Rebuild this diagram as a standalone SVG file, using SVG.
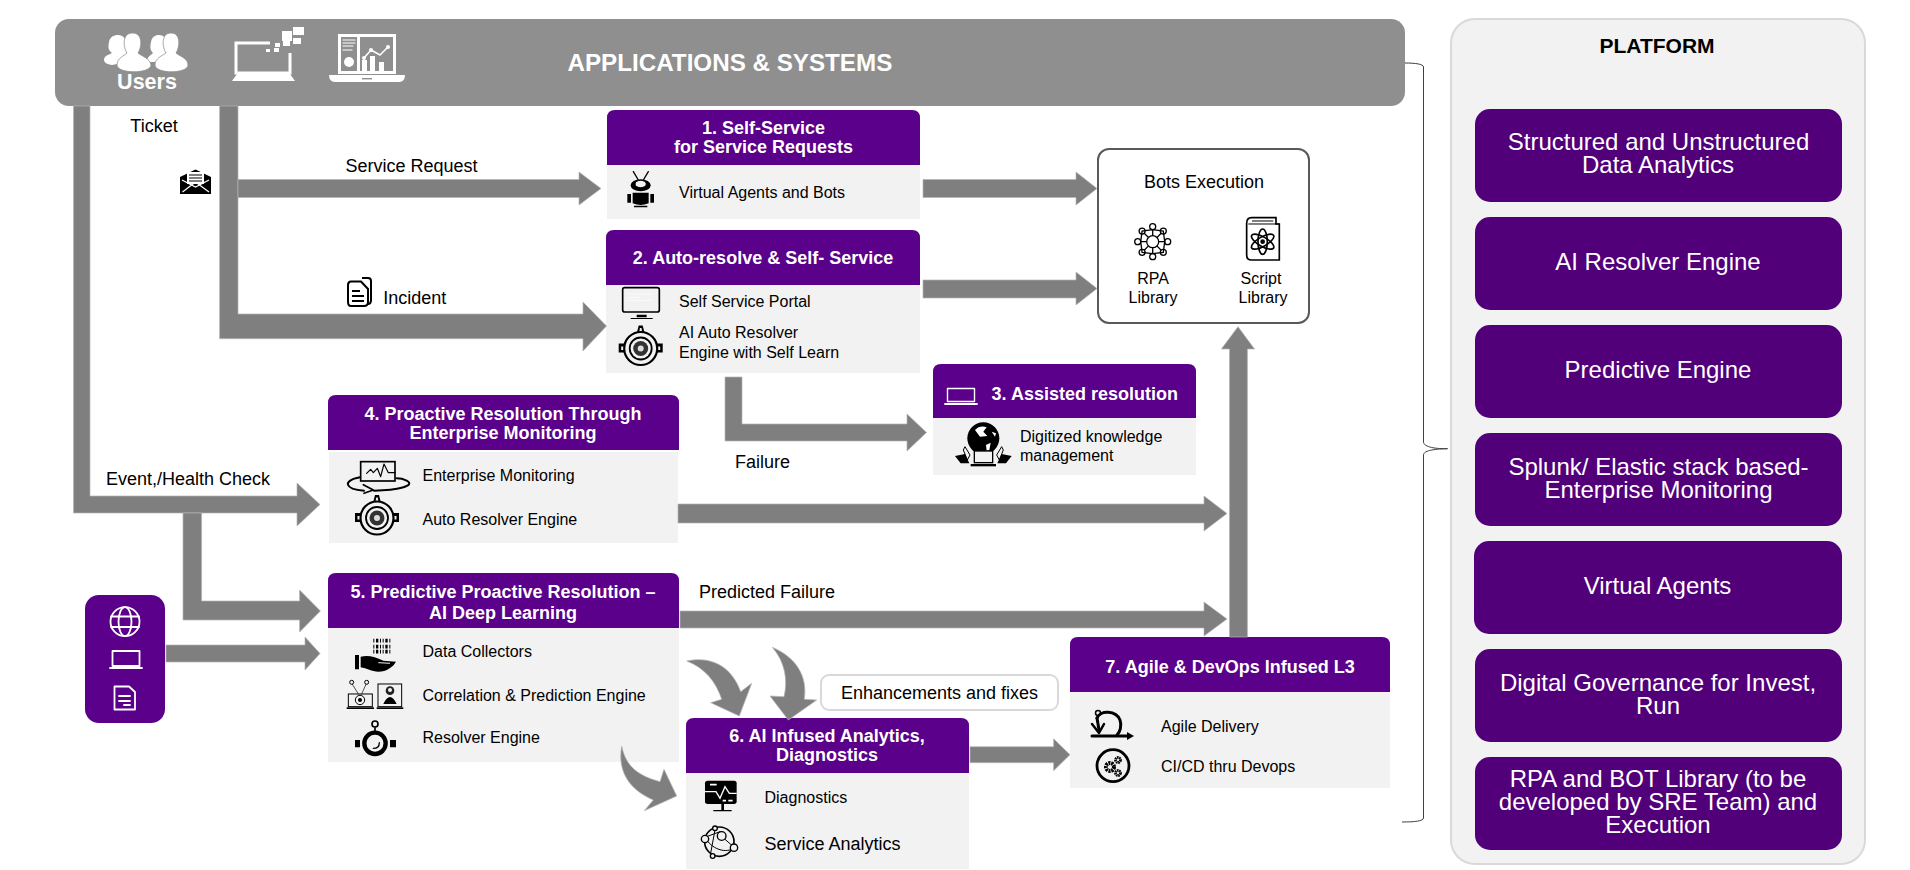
<svg xmlns="http://www.w3.org/2000/svg" width="1910" height="870" viewBox="0 0 1910 870">
<style>
text{font-family:"Liberation Sans",Arial,sans-serif;fill:#000}
.l{font-size:18px}
.b{font-size:16px}
.h{font-size:18px;font-weight:700;fill:#fff;text-anchor:middle}
.c{text-anchor:middle}
.p{font-size:24px;fill:#fff;text-anchor:middle}
.hd{fill:#5a008a}
.bd{fill:#f2f2f2}
.pb{fill:#51007a}
.ar{fill:#7f7f7f;stroke:#b5b5b5;stroke-width:.7}
.wl{fill:none;stroke:#fff;stroke-linecap:round;stroke-linejoin:round}
.kl{fill:none;stroke:#000;stroke-linecap:round;stroke-linejoin:round}
.k{fill:#000}
.w{fill:#fff}
.g{fill:#8f8f8f}
</style>
<defs>
<g id="engine">
<path d="M-2-23H2L4-15H-4Z" class="k"/><path d="M-.8-20.500H.8L1.500-16H-1.500Z" fill="#f2f2f2"/>
<path d="M-14-5H-22V4H-14ZM14-5H22V4H14Z" class="k"/><path d="M-19.500-2H-15V1.500H-19.500ZM15-2H19.500V1.500H15Z" fill="#f2f2f2"/>
<circle r="16.500" fill="#f2f2f2" stroke="#000" stroke-width="2.200"/>
<circle r="11" fill="#f2f2f2" stroke="#000" stroke-width="1.800"/>
<circle r="7.500" fill="#333"/><circle r="3" fill="#ddd"/>
</g>
</defs>

<g id="platform">
<rect x="1451" y="19" width="414" height="845" rx="24" fill="#f2f2f2" stroke="#d9d9d9" stroke-width="2"/>
<text x="1657" y="52.500" class="c" style="font-size:21px;font-weight:700">PLATFORM</text>
</g>
<g id="pf-1"><rect x="1475" y="109" width="367" height="93" rx="15" class="pb"/><text class="p" x="1658.500" y="150">Structured and Unstructured</text><text class="p" x="1658" y="173">Data Analytics</text></g>
<g id="pf-2"><rect x="1475" y="217" width="367" height="93" rx="15" class="pb"/><text class="p" x="1658" y="270">AI Resolver Engine</text></g>
<g id="pf-3"><rect x="1475" y="325" width="367" height="93" rx="15" class="pb"/><text class="p" x="1658" y="378">Predictive Engine</text></g>
<g id="pf-4"><rect x="1475" y="433" width="367" height="93" rx="15" class="pb"/><text class="p" x="1658.500" y="475">Splunk/ Elastic stack based-</text><text class="p" x="1658.500" y="498">Enterprise Monitoring</text></g>
<g id="pf-5"><rect x="1474" y="541" width="368" height="93" rx="15" class="pb"/><text class="p" x="1657.500" y="594">Virtual Agents</text></g>
<g id="pf-6"><rect x="1475" y="649" width="367" height="93" rx="15" class="pb"/><text class="p" x="1658" y="691">Digital Governance for Invest,</text><text class="p" x="1658" y="714">Run</text></g>
<g id="pf-7"><rect x="1475" y="757" width="367" height="93" rx="15" class="pb"/><text class="p" x="1658" y="787">RPA and BOT Library (to be</text><text class="p" x="1658" y="810">developed by SRE Team) and</text><text class="p" x="1658" y="833">Execution</text></g>

<g id="brace"><path d="M1405 63C1415 63 1423.500 64 1423.500 67V442C1423.500 446 1432 449 1447.600 448.700C1432 449 1423.500 451 1423.500 455V818C1423.500 821 1415 822 1402 822" fill="none" stroke="#404040" stroke-width="1"/></g>

<g id="apps">
<rect x="55" y="19" width="1350" height="87" rx="14" class="g"/>
<g class="w">
<path d="M104 60C104 56 108 55 112 53C108 50 108 47 109 42C110 36 115 35 118 35C124 35 127 40 127 48V62L112 65Q104 64 104 60Z"/>
<path d="M146 62C148 56 151 55 153 53C150 50 150 47 151 42C152 36 156 35 159 35C165 35 168 40 168 48V62Z"/>
</g>
<g class="w" stroke="#8f8f8f" stroke-width=".8">
<path d="M117 65C117 58 124 56 127 53C123 47 122 33 132.500 33C143 33 142 47 138 53C141 56 150 58 151 65C151 74 117 74 117 65Z"/>
<path d="M155 65C155 58 162 56 166 53C162 47 161 33 171 33C181 33 180 47 176 53C179 56 188 58 188 65C188 74 155 74 155 65Z"/>
</g>
<text x="147" y="88.500" class="c" style="font-size:21.500px;font-weight:700;fill:#fff">Users</text>
<path d="M270 43H236V73H290V53" fill="none" stroke="#fff" stroke-width="3"/>
<path d="M232 81L237 74H290L295 81Z" class="w"/>
<path d="M282 31h10v10h-10ZM293 27h11v8h-11ZM293 38h8v6h-8ZM283 41h7v5h-7ZM275 43h5v4h-5ZM266 49h4v3h-4ZM274 48h5v4h-5Z" class="w"/>
<rect x="338" y="34" width="58" height="40" class="w"/>
<path d="M329 75H405Q405 82 399 82H335Q329 82 329 75Z" class="w"/>
<rect x="362" y="78" width="10" height="1.400" fill="#8f8f8f"/>
<rect x="341" y="37" width="16" height="34" class="g"/><rect x="360" y="37" width="33" height="34" class="g"/>
<path d="M343 40h12M343 43h12M343 46h10M343 50h9" class="wl" stroke-width="1.200"/>
<circle cx="349" cy="62" r="5" class="w"/>
<path d="M362 71V60h5v11ZM370 71V56h5v15ZM379 71V62h5v9Z" class="w"/>
<path d="M364 58L371 50L380 55L388 47" class="wl" stroke-width="1.600"/>
<circle cx="371" cy="50" r="2" class="w"/><circle cx="388" cy="47" r="2" class="w"/><circle cx="364" cy="58" r="2" class="w"/>
<text x="567.500" y="71" style="font-size:24.200px;font-weight:700;fill:#fff">APPLICATIONS &amp; SYSTEMS</text>
</g>

<g id="box-1">
<path d="M607 165V118q0-8 8-8H912q8 0 8 8V165Z" class="hd"/><rect x="607" y="165" width="313" height="54" class="bd"/>
<text class="h" x="763.500" y="134">1. Self-Service</text><text class="h" x="763.500" y="153">for Service Requests</text>
<text class="b" x="679" y="197.700">Virtual Agents and Bots</text>
<g transform="translate(610,160) scale(.3333)">
<path d="M70 35L85 60M115 35L100 60" class="kl" stroke-width="4"/>
<ellipse cx="92" cy="76" rx="30" ry="18" class="k"/><ellipse cx="92" cy="72" rx="17" ry="11" fill="#f2f2f2" stroke="#000" stroke-width="3"/>
<path d="M68 98H116V130Q92 140 68 130ZM52 102H63V128H52ZM121 102H132V128H121ZM72 137H112V142H72Z" class="k"/>
</g>
</g>

<g id="box-2">
<path d="M606 285V238q0-8 8-8H912q8 0 8 8V285Z" class="hd"/><rect x="606" y="285" width="314" height="88" class="bd"/>
<text class="h" x="763" y="264">2. Auto-resolve &amp; Self- Service</text>
<text class="b" x="679" y="307">Self Service Portal</text>
<text class="b" x="679" y="338">AI Auto Resolver</text><text class="b" x="679" y="357.700">Engine with Self Learn</text>
<g transform="translate(610,160) scale(.3333)">
<rect x="38" y="383" width="110" height="73" rx="6" fill="#f2f2f2" stroke="#000" stroke-width="5"/>
<path d="M52 402H128M52 412H90M52 421H128" stroke="#fff" stroke-width="2"/>
<path d="M80 464H110V472H80ZM62 474H128V477H62Z" class="k"/>
</g>
<use href="#engine" x="640.700" y="348.500"/>
</g>

<g id="box-3">
<path d="M933 418V372q0-8 8-8H1188q8 0 8 8V418Z" class="hd"/><rect x="933" y="418" width="263" height="57" class="bd"/>
<text x="991.600" y="400" style="font-size:18px;font-weight:700;fill:#fff">3. Assisted resolution</text>
<rect x="947.500" y="388.500" width="27" height="13" class="wl" stroke-width="1.400"/><path d="M945 404H977" class="wl" stroke-width="1.800"/>
<text class="b" x="1020" y="441.700">Digitized knowledge</text><text class="b" x="1020" y="460.700">management</text>
<g transform="translate(930,370) scale(.3333)">
<circle cx="160" cy="205" r="48" class="k"/>
<path d="M135 180Q150 165 170 172L160 185L172 198L150 200ZM168 225L182 218L178 240L170 242ZM185 185L198 190L195 200Z" class="w"/>
<path d="M105 230L120 255L112 270L100 240ZM215 230L200 255L208 270L220 240Z" fill="#f2f2f2" stroke="#000" stroke-width="3"/>
<path d="M75 258L105 252L118 280H92ZM245 258L215 252L202 280H228Z" class="k"/>
<rect x="133" y="243" width="55" height="35" fill="#f2f2f2" stroke="#000" stroke-width="4"/>
<rect x="122" y="282" width="76" height="7" class="k"/>
</g>
</g>

<g id="box-4">
<path d="M328 450V403q0-8 8-8H671q8 0 8 8V450Z" class="hd"/><rect x="329" y="452" width="349" height="91" class="bd"/>
<text class="h" x="503" y="420">4. Proactive Resolution Through</text><text class="h" x="503" y="439">Enterprise Monitoring</text>
<text class="b" x="422.500" y="481">Enterprise Monitoring</text><text class="b" x="422.500" y="525">Auto Resolver Engine</text>
<g transform="translate(340,450) scale(.3333)">
<rect x="62" y="35" width="103" height="58" fill="none" stroke="#000" stroke-width="5"/>
<path d="M80 70L92 58L100 68L112 55L122 80L132 42L145 68H165" class="kl" stroke-width="3.500"/>
<path d="M60 82C5 92 15 118 72 122M102 122C170 120 230 108 200 92C192 88 180 85 170 85" class="kl" stroke-width="6"/>
<path d="M70 104L100 120L72 130" class="kl" stroke-width="5"/>
</g>
<use href="#engine" x="377" y="518"/>
</g>

<g id="box-5">
<path d="M328 628V581q0-8 8-8H671q8 0 8 8V628Z" class="hd"/><rect x="328" y="628" width="351" height="134" class="bd"/>
<text class="h" x="503" y="598">5. Predictive Proactive Resolution –</text><text class="h" x="503" y="619">AI Deep Learning</text>
<text class="b" x="422.500" y="657">Data Collectors</text><text class="b" x="422.500" y="701">Correlation &amp; Prediction Engine</text><text class="b" x="422.500" y="743">Resolver Engine</text>
<g transform="translate(340,450) scale(.3333)">
<path d="M100 572H155M100 590H155M100 605H155" stroke="#000" stroke-width="11" stroke-dasharray="3 5 7 5 3 5"/>
<path d="M45 615H57V658H45ZM62 620C85 615 105 620 130 632L168 635C160 650 140 665 115 665C95 665 80 655 62 652Z" class="k"/>
<path d="M115 638L150 640" stroke="#f2f2f2" stroke-width="3"/>
<circle cx="35" cy="697" r="6" fill="none" stroke="#000" stroke-width="3"/><circle cx="80" cy="697" r="6" fill="none" stroke="#000" stroke-width="3"/>
<path d="M37 703L55 732M78 703L65 732" class="kl" stroke-width="2"/>
<rect x="25" y="732" width="72" height="38" fill="none" stroke="#000" stroke-width="3"/>
<circle cx="60" cy="750" r="14" fill="none" stroke="#000" stroke-width="3"/><circle cx="60" cy="750" r="6" class="k"/>
<path d="M20 772H102V777H20Z" class="k"/>
<rect x="114" y="702" width="71" height="68" fill="none" stroke="#000" stroke-width="3"/>
<circle cx="150" cy="722" r="13" fill="#222"/><circle cx="150" cy="720" r="6" fill="#f2f2f2"/>
<path d="M130 762Q150 720 170 762Z" class="k"/><path d="M110 772H190V777H110Z" class="k"/>
<circle cx="105" cy="822" r="9" fill="none" stroke="#000" stroke-width="5"/>
<path d="M105 832V850" stroke="#000" stroke-width="5"/>
<circle cx="105" cy="880" r="32" fill="#f2f2f2" stroke="#000" stroke-width="13"/>
<path d="M45 870H60V892H45ZM150 870H168V892H150Z" class="k"/>
<path d="M118 878Q118 895 100 895" class="kl" stroke-width="4"/>
</g>
</g>

<g id="box-6">
<path d="M686 773V726q0-8 8-8H961q8 0 8 8V773Z" class="hd"/><rect x="686" y="773" width="283" height="96" class="bd"/>
<text class="h" x="827" y="742">6. AI Infused Analytics,</text><text class="h" x="827" y="761">Diagnostics</text>
<text class="b" x="764.500" y="803">Diagnostics</text><text class="l" x="764.500" y="850">Service Analytics</text>
<g transform="translate(610,640) scale(.3333)">
<rect x="285" y="422" width="95" height="70" rx="8" class="k"/>
<path d="M285 455H318L330 475L345 440L358 460H380" fill="none" stroke="#fff" stroke-width="4"/>
<path d="M300 434H320M338 482H348M355 482H368" stroke="#fff" stroke-width="5"/>
<path d="M334 492H342V510H334ZM310 510H365V514H310Z" class="k"/>
<circle cx="328" cy="605" r="44" fill="none" stroke="#000" stroke-width="5"/>
<path d="M290 600C310 630 350 640 370 625M290 590L330 575M345 598L368 618M315 570L302 640" class="kl" stroke-width="3"/>
<g fill="#f2f2f2" stroke="#000" stroke-width="4"><circle cx="335" cy="588" r="13"/><circle cx="285" cy="597" r="11"/><circle cx="372" cy="623" r="11"/><circle cx="315" cy="565" r="7"/><circle cx="308" cy="648" r="7"/></g>
</g>
</g>

<g id="box-7">
<path d="M1070 692V645q0-8 8-8H1382q8 0 8 8V692Z" class="hd"/><rect x="1070" y="692" width="320" height="96" class="bd"/>
<text class="h" x="1230" y="672.700">7. Agile &amp; DevOps Infused L3</text>
<text class="b" x="1161" y="731.700">Agile Delivery</text><text class="b" x="1161" y="772">CI/CD thru Devops</text>
<path d="M1092 736H1128" class="kl" stroke-width="3"/><path d="M1127 732L1134 736L1127 740Z" class="k"/>
<path d="M1097 718C1100 710 1116 710 1120 720C1122 726 1120 732 1117 735" class="kl" stroke-width="3"/>
<path d="M1097 718L1099 730" class="kl" stroke-width="3"/>
<path d="M1092 724L1099 733L1104 724" class="kl" stroke-width="2.500"/>
<circle cx="1098" cy="713" r="2.500" fill="none" stroke="#000" stroke-width="1.500"/>
<circle cx="1113" cy="765.700" r="16" fill="none" stroke="#000" stroke-width="2.800"/>
<circle cx="1110" cy="767" r="4" fill="none" stroke="#000" stroke-width="4" stroke-dasharray="2 .8"/>
<circle cx="1118" cy="760" r="2.500" fill="none" stroke="#000" stroke-width="2.800" stroke-dasharray="1.500 .6"/>
<circle cx="1118" cy="773" r="2.500" fill="none" stroke="#000" stroke-width="2.800" stroke-dasharray="1.500 .6"/>
</g>

<g id="bots">
<rect x="1098" y="149" width="211" height="174" rx="11" fill="#fff" stroke="#595959" stroke-width="2"/>
<text class="l c" x="1204" y="187.700">Bots Execution</text>
<text class="b c" x="1153" y="284">RPA</text><text class="b c" x="1153" y="303">Library</text>
<text class="b c" x="1261" y="284">Script</text><text class="b c" x="1263" y="303">Library</text>
<g transform="translate(1152.700,241.700)" fill="none" stroke="#000" stroke-width="1.300">
<circle r="6"/>
<circle cx="0" cy="-15" r="3"/><circle cx="10.600" cy="-10.600" r="3"/><circle cx="15" cy="0" r="3"/><circle cx="10.600" cy="10.600" r="3"/><circle cx="0" cy="15" r="3"/><circle cx="-10.600" cy="10.600" r="3"/><circle cx="-15" cy="0" r="3"/><circle cx="-10.600" cy="-10.600" r="3"/>
<path d="M0-12L10.600-10.600L12 0L10.600 10.600L0 12L-10.600 10.600L-12 0L-10.600-10.600Z"/>
<path d="M0-12V-6M8.500-8.500L4.200-4.200M12 0H6M8.500 8.500L4.200 4.200M0 12V6M-8.500 8.500L-4.200 4.200M-12 0H-6M-8.500-8.500L-4.200-4.200"/>
</g>
<g transform="translate(1120,210) scale(.3333)">
<path d="M380 40Q380 23 395 23H468V42H478V150H395Q380 150 380 135Z" fill="#fff" stroke="#000" stroke-width="5"/>
<path d="M385 42H478M396 33H460" stroke="#000" stroke-width="3"/>
<g fill="none" stroke="#000" stroke-width="5"><ellipse cx="428" cy="95" rx="38" ry="14" transform="rotate(30 428 95)"/><ellipse cx="428" cy="95" rx="38" ry="14" transform="rotate(-30 428 95)"/><ellipse cx="428" cy="95" rx="38" ry="14" transform="rotate(90 428 95)"/></g>
<circle cx="428" cy="95" r="7" class="k"/>
</g>
</g>

<g id="enhancements">
<rect x="821" y="675" width="237" height="35" rx="8" fill="#fff" stroke="#d9d9d9" stroke-width="2"/>
<text class="l c" x="939.500" y="698.700">Enhancements and fixes</text>
</g>

<g id="sources">
<rect x="85" y="595" width="80" height="128" rx="14" class="hd"/>
<g class="wl" stroke-width="1.800">
<circle cx="125" cy="621.700" r="14.500"/><ellipse cx="125" cy="621.700" rx="6.500" ry="14.500"/><path d="M111 616.500H139M111 627H139"/>
<rect x="112.500" y="651" width="27" height="15"/><path d="M110 668H142"/>
<path d="M114.500 686.500H129L135 692V709.500H114.500Z"/><path d="M119 696H130M119 701H130M124 705H130"/>
</g>
</g>

<g id="labels">
<text class="l c" x="154" y="131.700">Ticket</text>
<text class="l" x="345.500" y="171.700">Service Request</text>
<text class="l" x="383.200" y="304">Incident</text>
<text class="l" x="735" y="467.700">Failure</text>
<text class="l" x="106" y="485">Event,/Health Check</text>
<text class="l" x="699" y="598">Predicted Failure</text>
<path d="M180 177L195.500 169.500L211 177V194H180Z" class="k"/>
<path d="M182.500 192L195.500 182L209 192M182 180L195.500 187L209 180" fill="none" stroke="#fff" stroke-width="1.200"/>
<rect x="187" y="172" width="17" height="12" class="w"/><path d="M189 175H202M189 178H202M189 181H202" stroke="#000" stroke-width="1.200"/>
<path d="M362 278H368Q371 278 371 281V300Q371 304 368 304" fill="none" stroke="#000" stroke-width="2"/>
<path d="M351 281.500H361L368 289V302Q368 306 364 306H351Q348 306 348 302V285Q348 281.500 351 281.500Z" fill="#fff" stroke="#000" stroke-width="2"/>
<path d="M352 291H360M352 296H364M352 301H364" stroke="#000" stroke-width="2"/>
</g>

<g id="connectors">
<path class="ar" d="M73.500 106H90V496H297V483L320 504.500L297 526V513H73.500Z"/>
<path class="ar" d="M219.600 106H238V314H583V302L606.500 326L583 351V338.700H219.600Z"/>
<path class="ar" d="M238 179.500H579V172L601 188.500L579 205V197.500H238Z"/>
<path class="ar" d="M923 179.500H1076V172L1097 188.500L1076 205V197.500H923Z"/>
<path class="ar" d="M923 280H1076V272L1097 288.500L1076 305V298H923Z"/>
<path class="ar" d="M725 377H742V424H907V414L926.500 432.500L907 451V441H725Z"/>
<path class="ar" d="M1229.500 637V349H1221.400L1238 326.700L1254.500 349H1247.400V637Z"/>
<path class="ar" d="M678 504H1204V496L1227 513.500L1204 531V523H678Z"/>
<path class="ar" d="M680 611H1204V602L1227 619L1204 636V628H680Z"/>
<path class="ar" d="M183 513H201.600V601H299.600V590L320.400 611L299.600 632V620H183Z"/>
<path class="ar" d="M166 645H305V637L320 653.500L305 670V662H166Z"/>
<path class="ar" d="M970 746.700H1053.600V738.700L1070 754.700L1053.600 770.700V762.700H970Z"/>
<path class="ar" d="M686.700 661C715 655 733 670 740.700 691.700L751.700 683.300L739.300 716L710.700 702.700L721.700 699.300C716 682 705 668 686.700 661Z"/>
<path class="ar" d="M772.300 647.300C795 657 808 675 804.300 699.300L816.700 700L788.300 720L770 696L784 696.700C788 680 785 662 772.300 647.300Z"/>
<path class="ar" d="M621.700 746C617 772 630 790 653.300 800L644.300 810.700L676.700 796L664 769.300L660 781.700C640 776 626 768 621.700 746Z"/>
</g>
</svg>
